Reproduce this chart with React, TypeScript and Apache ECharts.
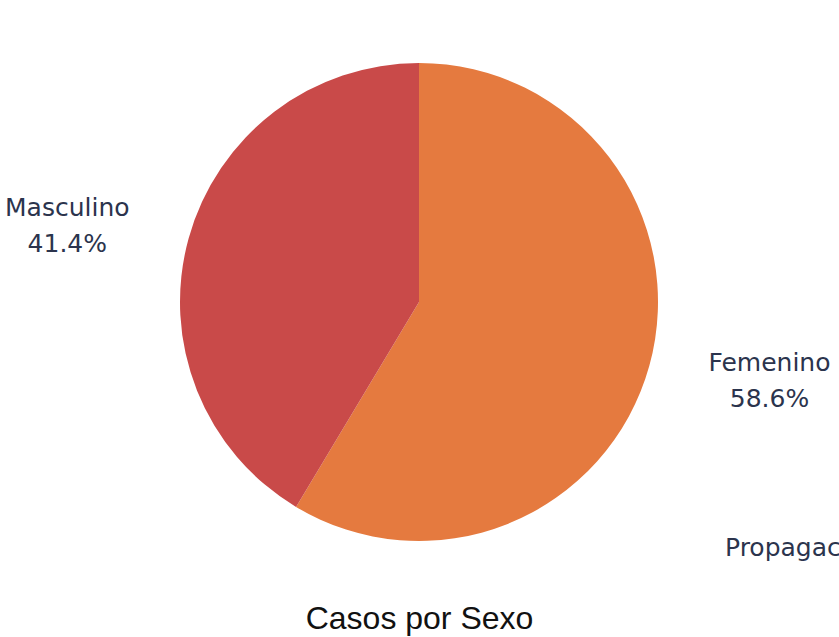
import React, { useEffect, useRef } from "react";
import * as echarts from "echarts";

const categories = ["Femenino", "Masculino"];
const values = [58.6, 41.4];
const colors = ["#E57A3F", "#C94A49"];
const titleText = "Casos por Sexo";
const extraText = "Propagación";

export default function App() {
  const ref = useRef<HTMLDivElement>(null);
  useEffect(() => {
    document.body.style.margin = "0";
    const chart = echarts.init(ref.current!, null, { renderer: "svg" });
    chart.setOption({
      animation: false,
      backgroundColor: "#ffffff",
      title: {
        text: titleText,
        left: "center",
        top: 597,
        textStyle: { fontFamily: "Liberation Sans", fontSize: 32, fontWeight: "normal", color: "#111111" },
      },
      graphic: [
        {
          type: "text",
          left: 725,
          top: 535,
          style: { text: extraText, fontFamily: "DejaVu Sans", fontSize: 25, fill: "#2b344d" },
        },
      ],
      series: [
        {
          type: "pie",
          center: [419, 302],
          radius: 239,
          startAngle: 90,
          clockwise: true,
          percentPrecision: 1,
          data: categories.map((c, i) => ({ name: c, value: values[i], itemStyle: { color: colors[i] } })),
          label: {
            show: true,
            position: "outside",
            formatter: "{b}\n{d}%",
            fontFamily: "DejaVu Sans",
            fontSize: 25,
            lineHeight: 36,
            color: "#2b344d",
            overflow: "none",
          },
          labelLine: { show: false, length: 52, length2: 4 },
          labelLayout: (p: any) => ({
            x: p.labelRect.x + p.labelRect.width / 2,
            y: p.labelRect.y + p.labelRect.height / 2 + 1,
            align: "center",
            verticalAlign: "middle",
          }),
        },
      ],
    });
    return () => chart.dispose();
  }, []);
  return <div ref={ref} style={{ width: 839, height: 637 }} />;
}
